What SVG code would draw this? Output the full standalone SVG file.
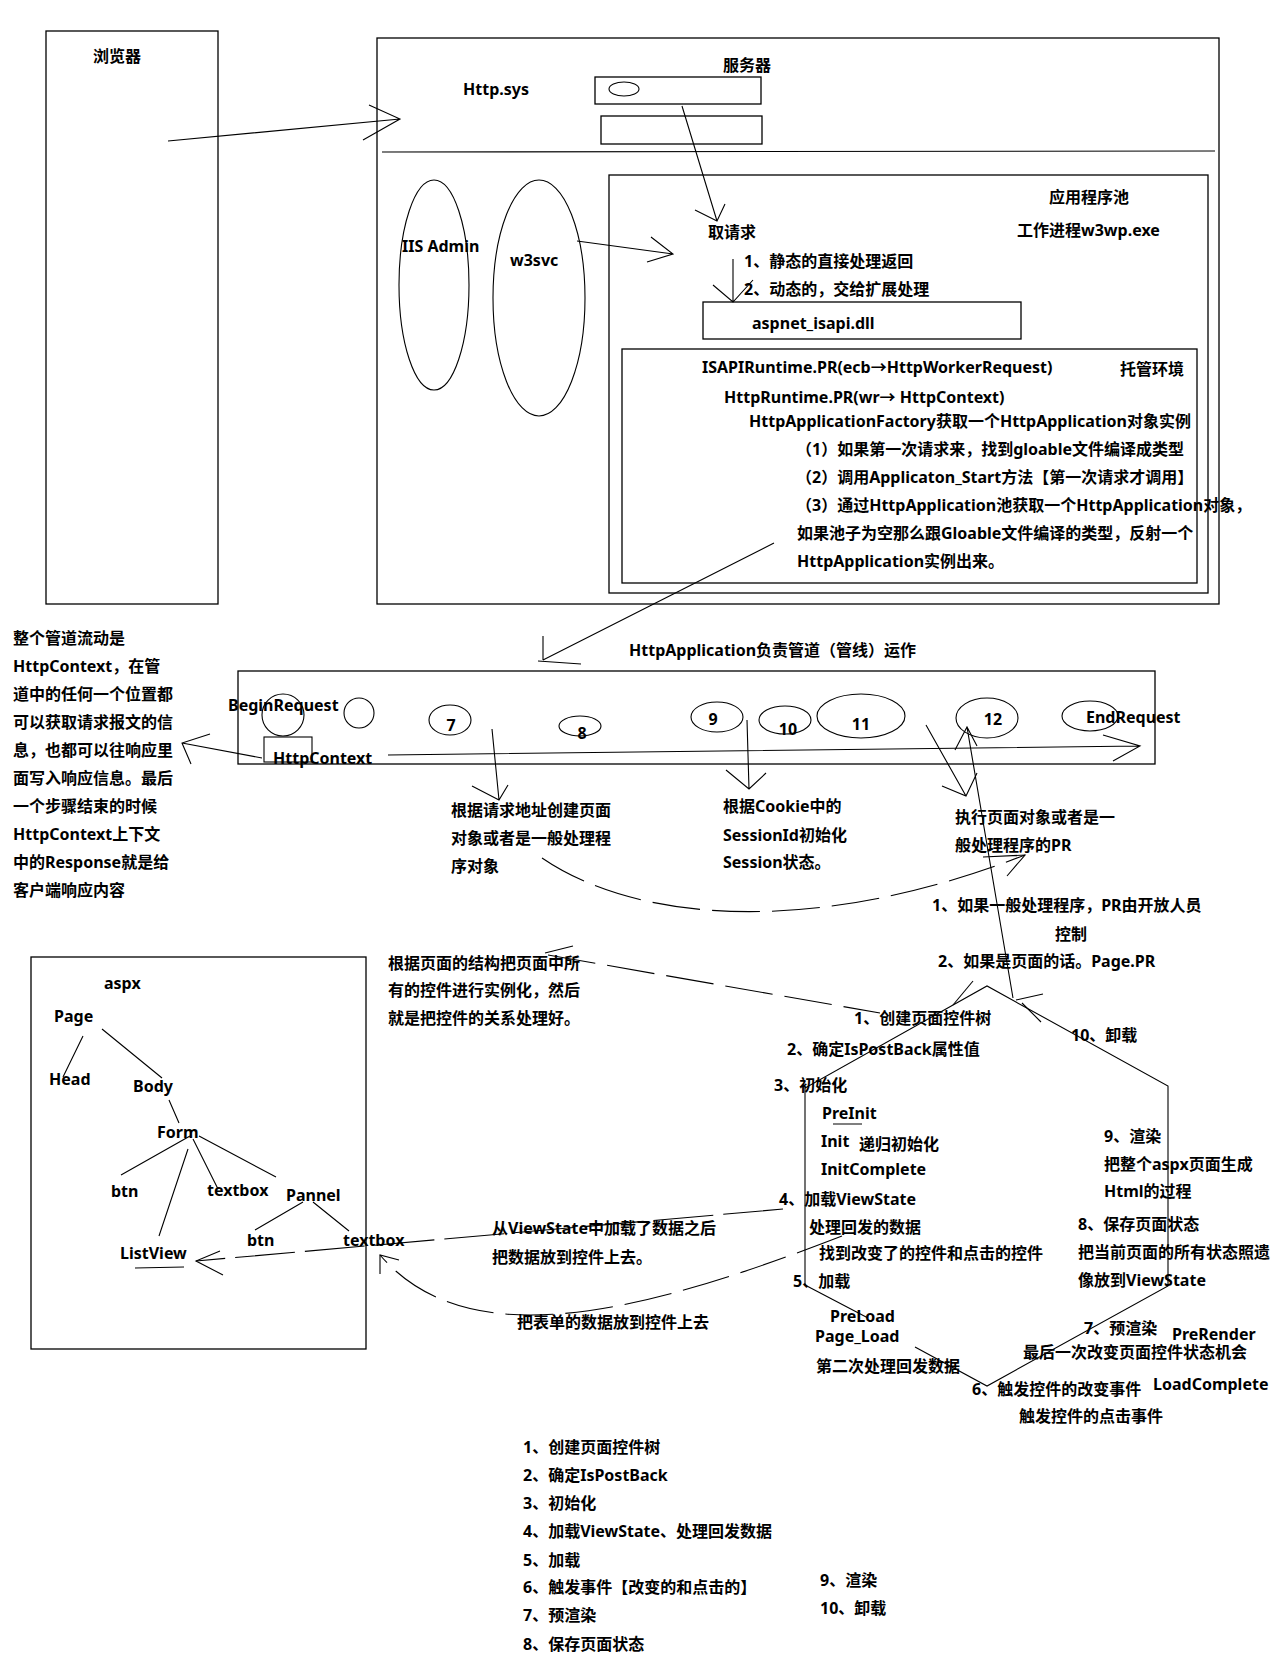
<svg xmlns="http://www.w3.org/2000/svg" width="1276" height="1672" viewBox="0 0 1276 1672">
<style>
.t{font-family:"Noto Sans","Noto Sans CJK SC",sans-serif;font-size:16px;font-weight:bold;fill:#000}
.m{text-anchor:middle}
.b{fill:none;stroke:#000;stroke-width:1.3}
.l{fill:none;stroke:#000;stroke-width:1.1}
.d{fill:none;stroke:#000;stroke-width:1.1;stroke-dasharray:48,12}
.d2{fill:none;stroke:#000;stroke-width:1.1;stroke-dasharray:60,10}
</style>
<rect width="1276" height="1672" fill="#fff"/>

<g id="browser">
<rect class="b" x="46" y="31" width="172" height="573"/>
<text class="t" x="93" y="62">浏览器</text>
</g>

<g id="server">
<rect class="b" x="377" y="38" width="842" height="566"/>
<line class="l" x1="382" y1="152" x2="1215" y2="151"/>
<text class="t" x="723" y="71">服务器</text>
<text class="t" x="463" y="95">Http.sys</text>
<rect class="b" x="595" y="77" width="166" height="27"/>
<ellipse class="l" cx="624" cy="89" rx="15" ry="7"/>
<rect class="b" x="601" y="116" width="161" height="28"/>
</g>

<g id="iisadmin">
<ellipse class="l" cx="434" cy="285" rx="35" ry="105"/>
<text class="t" x="402" y="252">IIS Admin</text>
</g>

<g id="w3svc">
<ellipse class="l" cx="539" cy="298" rx="46" ry="118"/>
<text class="t" x="510" y="266">w3svc</text>
</g>

<g id="apppool">
<rect class="b" x="609" y="175" width="599" height="418"/>
<text class="t" x="1049" y="203">应用程序池</text>
<text class="t" x="1017" y="236">工作进程w3wp.exe</text>
<text class="t" x="708" y="238">取请求</text>
<text class="t" x="744" y="267">1、静态的直接处理返回</text>
<text class="t" x="744" y="295">2、动态的，交给扩展处理</text>
</g>

<g id="aspnet_isapi">
<rect class="b" x="703" y="302" width="318" height="37"/>
<text class="t" x="752" y="329">aspnet_isapi.dll</text>
</g>

<g id="managed">
<rect class="b" x="622" y="349" width="575" height="234"/>
<text class="t" x="1120" y="375">托管环境</text>
<text class="t" x="702" y="373">ISAPIRuntime.PR(ecb→HttpWorkerRequest)</text>
<text class="t" x="724" y="403">HttpRuntime.PR(wr→ HttpContext)</text>
<text class="t" x="749" y="427">HttpApplicationFactory获取一个HttpApplication对象实例</text>
<text class="t" x="796" y="455">（1）如果第一次请求来，找到gloable文件编译成类型</text>
<text class="t" x="796" y="483">（2）调用Applicaton_Start方法【第一次请求才调用】</text>
<text class="t" x="796" y="511">（3）通过HttpApplication池获取一个HttpApplication对象，</text>
<text class="t" x="797" y="539">如果池子为空那么跟Gloable文件编译的类型，反射一个</text>
<text class="t" x="797" y="567">HttpApplication实例出来。</text>
</g>

<g id="pipeline-note">
<text class="t" x="13" y="644">整个管道流动是</text>
<text class="t" x="13" y="672">HttpContext，在管</text>
<text class="t" x="13" y="700">道中的任何一个位置都</text>
<text class="t" x="13" y="728">可以获取请求报文的信</text>
<text class="t" x="13" y="756">息，也都可以往响应里</text>
<text class="t" x="13" y="784">面写入响应信息。最后</text>
<text class="t" x="13" y="812">一个步骤结束的时候</text>
<text class="t" x="13" y="840">HttpContext上下文</text>
<text class="t" x="13" y="868">中的Response就是给</text>
<text class="t" x="13" y="896">客户端响应内容</text>
</g>

<g id="pipeline">
<text class="t" x="629" y="656">HttpApplication负责管道（管线）运作</text>
<rect class="b" x="238" y="671" width="917" height="93"/>
<circle class="l" cx="283" cy="715" r="21"/>
<text class="t" x="228" y="711">BeginRequest</text>
<circle class="l" cx="359" cy="713" r="15"/>
<rect class="l" x="264" y="737" width="48" height="25"/>
<text class="t" x="273" y="764">HttpContext</text>
<ellipse class="l" cx="450" cy="720" rx="21" ry="15"/>
<text class="t m" x="451" y="731">7</text>
<ellipse class="l" cx="580" cy="726" rx="21" ry="10"/>
<text class="t m" x="582" y="739">8</text>
<ellipse class="l" cx="717" cy="717" rx="26" ry="15"/>
<text class="t m" x="713" y="725">9</text>
<ellipse class="l" cx="785" cy="720" rx="26" ry="14"/>
<text class="t m" x="788" y="735">10</text>
<ellipse class="l" cx="861" cy="716" rx="44" ry="22"/>
<text class="t m" x="861" y="730">11</text>
<ellipse class="l" cx="987" cy="718" rx="31" ry="20"/>
<text class="t m" x="993" y="725">12</text>
<ellipse class="l" cx="1090" cy="716" rx="28" ry="15"/>
<text class="t" x="1086" y="723">EndRequest</text>
</g>

<g id="notes-pipeline">
<text class="t" x="451" y="816">根据请求地址创建页面</text>
<text class="t" x="451" y="844">对象或者是一般处理程</text>
<text class="t" x="451" y="872">序对象</text>
<text class="t" x="723" y="812">根据Cookie中的</text>
<text class="t" x="723" y="841">SessionId初始化</text>
<text class="t" x="723" y="868">Session状态。</text>
<text class="t" x="955" y="823">执行页面对象或者是一</text>
<text class="t" x="955" y="851">般处理程序的PR</text>
<text class="t" x="932" y="911">1、如果一般处理程序，PR由开放人员</text>
<text class="t" x="1055" y="940">控制</text>
<text class="t" x="938" y="967">2、如果是页面的话。Page.PR</text>
<text class="t" x="388" y="969">根据页面的结构把页面中所</text>
<text class="t" x="388" y="996">有的控件进行实例化，然后</text>
<text class="t" x="388" y="1024">就是把控件的关系处理好。</text>
</g>

<g id="aspx-tree">
<rect class="b" x="31" y="957" width="335" height="392"/>
<text class="t" x="104" y="989">aspx</text>
<text class="t" x="54" y="1022">Page</text>
<text class="t" x="49" y="1085">Head</text>
<text class="t" x="133" y="1092">Body</text>
<text class="t" x="157" y="1138">Form</text>
<text class="t" x="111" y="1197">btn</text>
<text class="t" x="207" y="1196">textbox</text>
<text class="t" x="286" y="1201">Pannel</text>
<text class="t" x="247" y="1246">btn</text>
<text class="t" x="343" y="1246">textbox</text>
<text class="t" x="120" y="1259">ListView</text>
<path class="l" d="M83,1036L63,1077M102,1029L162,1078M169,1100L179,1123M190,1136L121,1175M188,1149L159,1236M193,1139L218,1189M199,1136L276,1177M303,1202L255,1230M313,1202L349,1231M135,1268L184,1267"/>
</g>

<g id="lifecycle">
<text class="t" x="854" y="1024">1、创建页面控件树</text>
<text class="t" x="1071" y="1041">10、卸载</text>
<text class="t" x="787" y="1055">2、确定IsPostBack属性值</text>
<text class="t" x="774" y="1091">3、初始化</text>
<text class="t" x="822" y="1119">PreInit</text>
<text class="t" x="821" y="1147">Init</text>
<text class="t" x="859" y="1150">递归初始化</text>
<text class="t" x="821" y="1175">InitComplete</text>
<text class="t" x="779" y="1205">4、加载ViewState</text>
<text class="t" x="809" y="1233">处理回发的数据</text>
<text class="t" x="819" y="1259">找到改变了的控件和点击的控件</text>
<text class="t" x="793" y="1287">5、加载</text>
<text class="t" x="830" y="1322">PreLoad</text>
<text class="t" x="815" y="1342">Page_Load</text>
<text class="t" x="816" y="1372">第二次处理回发数据</text>
<text class="t" x="972" y="1395">6、触发控件的改变事件</text>
<text class="t" x="1019" y="1422">触发控件的点击事件</text>
<text class="t" x="1104" y="1142">9、渲染</text>
<text class="t" x="1104" y="1170">把整个aspx页面生成</text>
<text class="t" x="1104" y="1197">Html的过程</text>
<text class="t" x="1078" y="1230">8、保存页面状态</text>
<text class="t" x="1078" y="1258">把当前页面的所有状态照遗</text>
<text class="t" x="1078" y="1286">像放到ViewState</text>
<text class="t" x="1084" y="1334">7、预渲染</text>
<text class="t" x="1172" y="1340">PreRender</text>
<text class="t" x="1023" y="1358">最后一次改变页面控件状态机会</text>
<text class="t" x="1153" y="1390">LoadComplete</text>
<path class="l" d="M805,1285L805,1088L987,986L1168,1086L1168,1286L987,1386L915,1347M868,1318L805,1285M833,1124L862,1124"/>
</g>

<g id="notes-bottom">
<text class="t" x="492" y="1234">从ViewState中加载了数据之后</text>
<text class="t" x="492" y="1263">把数据放到控件上去。</text>
<text class="t" x="517" y="1328">把表单的数据放到控件上去</text>
<text class="t" x="523" y="1453">1、创建页面控件树</text>
<text class="t" x="523" y="1481">2、确定IsPostBack</text>
<text class="t" x="523" y="1509">3、初始化</text>
<text class="t" x="523" y="1537">4、加载ViewState、处理回发数据</text>
<text class="t" x="523" y="1566">5、加载</text>
<text class="t" x="523" y="1593">6、触发事件【改变的和点击的】</text>
<text class="t" x="523" y="1621">7、预渲染</text>
<text class="t" x="523" y="1650">8、保存页面状态</text>
<text class="t" x="820" y="1586">9、渲染</text>
<text class="t" x="820" y="1614">10、卸载</text>
</g>

<g id="connectors">
<path class="l" d="M168,141L400,119M369,105L400,119L363,140"/>
<path class="l" d="M682,106L717,221M695,210L717,221L725,204"/>
<path class="l" d="M577,241L673,254M651,237L673,254L647,262"/>
<path class="l" d="M733,259L733,302M713,285L733,302L753,280"/>
<path class="l" d="M774,543L543,660M543,636L543,660M538,661L581,664"/>
<path class="l" d="M388,755L1140,746M1103,735L1140,746L1113,761"/>
<path class="l" d="M262,758L182,743M210,734L182,743L191,764"/>
<path class="l" d="M492,729L499,800M472,786L499,800L508,785"/>
<path class="l" d="M747,720L749,789M726,770L749,789L766,773"/>
<path class="l" d="M926,725L966,796M942,786L966,796L977,773"/>
<path class="l" d="M1013,998L967,727M955,750L967,727L977,746"/>
<path class="l" d="M1043,994L1016,1000M1041,1022L1022,1003"/>
<path class="l" d="M953,1005L973,981"/>
<path class="d" d="M542,858C640,925 820,935 1025,855"/>
<path class="l" d="M983,857L1025,855L1007,876"/>
<path class="d" d="M548,955L880,1013"/>
<path class="l" d="M545,953L573,946"/>
<path class="d2" d="M783,1209L196,1261"/>
<path class="l" d="M220,1251L196,1261L223,1275"/>
<path class="d" d="M842,1236C650,1310 470,1360 380,1255"/>
<path class="l" d="M380,1274L380,1255L399,1260"/>
</g>
</svg>
